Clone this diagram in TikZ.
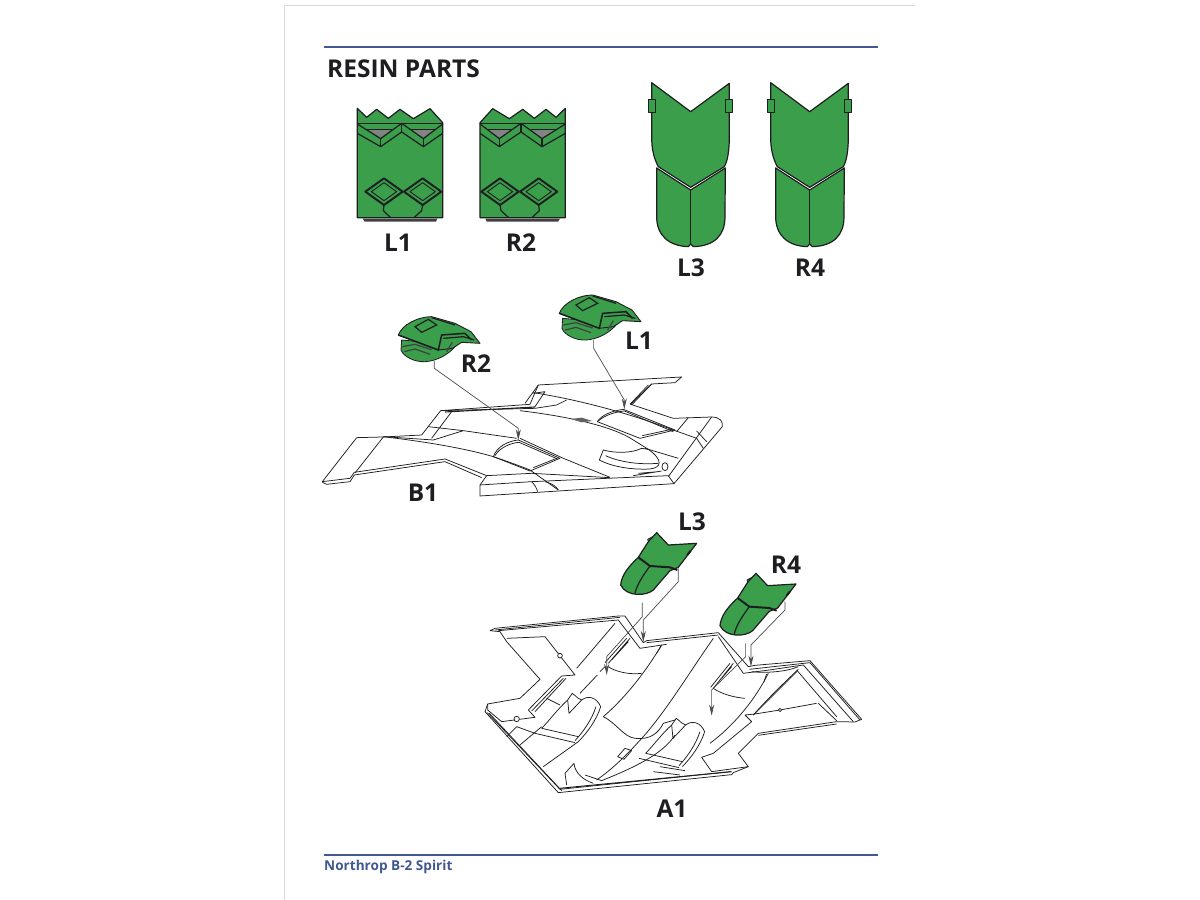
\documentclass[tikz,border=0pt]{standalone}
\usepackage{fontspec}
\setmainfont{Open Sans}
\usetikzlibrary{arrows.meta}
\definecolor{partgreen}{RGB}{58,158,74}
\definecolor{rulecol}{RGB}{66,88,146}
\definecolor{inkcol}{RGB}{30,30,34}
\tikzset{
  partlabel/.style={inner sep=0pt, font=\fontsize{24.5}{24.5}\selectfont\bfseries, text=inkcol},
  part/.style={draw=inkcol, fill=partgreen, line width=1.2pt, line join=round},
  edgeline/.style={draw=inkcol, line width=.75pt, line join=round},
  leader/.style={draw=inkcol!80, line width=.7pt},
  leaderarrow/.style={leader, -{Stealth[length=11pt,width=5pt]}},
  zoomed/.style={x=.3333pt, y=-.3333pt},
}
% flat part, traced once (L1), mirrored for R2
\newcommand{\flatpart}{
  \draw[part] (112,205) -- (140,232) -- (170,208) -- (205,235) -- (240,208) -- (280,236)
    -- (330,206) -- (368,248) -- (368,533) -- (112,533) -- cycle;
  \fill[inkcol!85] (128,536) -- (352,536) -- (348,545) -- (134,545) -- cycle;
  \fill[inkcol!55] (145,270) -- (212,270) -- (182,292) -- cycle;
  \fill[inkcol!55] (275,270) -- (342,270) -- (310,292) -- cycle;
  \draw[part, fill=none] (112,250) -- (368,250);
  \draw[part, fill=none] (112,252) -- (182,296) -- (245,250) -- (310,296) -- (368,252);
  \draw[part, fill=none] (112,280) -- (182,320) -- (245,276) -- (310,320) -- (368,280);
  \draw[part, fill=none] (182,296) -- (182,320) (245,250) -- (245,276) (310,296) -- (310,320);
  \draw[part, fill=none] (140,268) -- (215,268) (270,268) -- (345,268);
  \foreach \cx in {192,308} {
    \draw[part, fill=none, line width=1.9pt] (\cx-56,455) -- (\cx,415) -- (\cx+56,455) -- (\cx,495) -- cycle;
    \draw[part, fill=none, line width=.9pt] (\cx-38,455) -- (\cx,428) -- (\cx+38,455) -- (\cx,482) -- cycle;
  }
  \draw[part, fill=none] (192,495) -- (190,512) -- (212,533) (308,495) -- (305,512) -- (282,533);
}
% tall part of L3 and R4
\newcommand{\tallpart}{
  \draw[part] (65,38) -- (182,125) -- (298,40) -- (298,200)
    .. controls (298,245) and (292,275) .. (283,290) -- (182,352) -- (85,290)
    .. controls (72,265) and (65,240) .. (65,200) -- cycle;
  \draw[part] (80,294) -- (182,360) -- (286,294) -- (285,440)
    .. controls (285,495) and (255,528) .. (190,530) -- (182,522) -- (175,530)
    .. controls (115,528) and (80,495) .. (80,440) -- cycle;
  \draw[part, fill=none] (182,360) -- (182,522);
  \draw[part, line width=1pt] (56,90) rectangle (75,128) (288,90) rectangle (308,128);
}
% small view of the tall part, L3 position
\newcommand{\tonguepart}{
  \draw[part, line width=.8pt] (503,88) -- (518,80) -- (522,95) -- (508,100) -- cycle;
  \draw[part] (422,225) .. controls (425,195) and (445,170) .. (475,142) -- (505,95) -- (530,68)
    -- (565,105) -- (650,100) -- (595,172) -- (570,182) -- (520,240)
    .. controls (500,258) and (440,262) .. (422,225) -- cycle;
  \draw[inkcol, line width=2pt, line join=round] (475,142) -- (510,168) -- (570,172) -- (592,180);
  \draw[part, fill=none] (510,168) .. controls (490,195) and (470,225) .. (465,250);
  \draw[inkcol, line width=2pt] (622,135) -- (632,122);
}
% small view of the flat part, R2 position
\newcommand{\domepart}{
  \draw[part, line width=.8pt] (260,165) -- (258,195) .. controls (265,215) and (300,232) .. (330,230)
    .. controls (365,228) and (400,210) .. (425,180) -- cycle;
  \draw[part, line width=.9pt] (250,150) .. controls (262,118) and (310,95) .. (350,95) -- (420,115)
    -- (468,140) -- (495,175) -- (440,172) -- (412,190) -- (370,195) -- cycle;
  \draw[inkcol, line width=1.5pt] (250,150) -- (370,195) -- (380,150) -- (450,145) -- (470,165);
  \draw[inkcol, line width=1.2pt] (300,125) -- (340,103) -- (365,120) -- (320,142) -- cycle;
  \draw[inkcol, line width=1.2pt] (385,160) -- (445,155) -- (478,165) (350,98) -- (420,120);
  \draw[inkcol!85, line width=1.2pt] (262,185) -- (300,178) -- (350,194) (268,200) -- (300,192) -- (345,208)
    (395,200) -- (412,172);
}
% engine cowl on A1, left position
\newcommand{\cowlpart}{
  \draw[edgeline] (263,570) -- (277,550) -- (295,565) -- (305,570) -- (267,610) -- cycle;
  \draw[edgeline] (263,570) .. controls (235,595) and (205,635) .. (185,655);
  \draw[edgeline] (305,570) .. controls (325,555) and (350,562) .. (362,590)
    .. controls (350,630) and (320,670) .. (295,695);
  \draw[edgeline] (348,590) .. controls (335,630) and (310,665) .. (285,692);
  \draw[edgeline] (185,655) -- (295,680) (165,670) -- (285,698);
}
\begin{document}
\begin{tikzpicture}[x=1pt, y=-1pt]
  \useasboundingbox (0,0) rectangle (1200,900);
  % page edge and rules
  \draw[gray!30, line width=.8pt] (284,900) -- (284,5) -- (915,5);
  \draw[rulecol, line width=2pt] (324,47) -- (878,47);
  \draw[rulecol, line width=2pt] (324,855) -- (878,855);
  \node[partlabel, anchor=base west] (title) at (327,77) {RESIN PARTS};
  \node[anchor=base west, inner sep=0pt, text=rulecol, font=\fontsize{13.6}{13.6}\selectfont\bfseries] (footer) at (324,870) {Northrop B-2 Spirit};

  % flat parts
  \begin{scope}[shift={(320,40)}, zoomed]
    \flatpart
  \end{scope}
  \begin{scope}[shift={(602.67,40)}, xscale=-1, zoomed]
    \flatpart
  \end{scope}
  % tall parts
  \begin{scope}[shift={(630,70)}, zoomed]
    \tallpart
  \end{scope}
  \begin{scope}[shift={(749,70)}, zoomed]
    \tallpart
  \end{scope}
  \node[partlabel] (topL1) at (398,243) {L1};
  \node[partlabel] (topR2) at (521,243) {R2};
  \node[partlabel] (topL3) at (691,268) {L3};
  \node[partlabel] (topR4) at (810,268) {R4};

  % B1
  \begin{scope}[shift={(315,285)}, zoomed]
    \draw[edgeline] (22,590) -- (125,458) -- (205,456) -- (320,450) -- (377,377) -- (645,358) -- (670,300)
      -- (1100,276) -- (1080,293) -- (1010,297) -- (947,358) -- (1075,400) -- (1190,396)
      .. controls (1215,396) and (1225,410) .. (1222,425) -- (1077,596) -- (495,633) -- (495,600) -- (515,572)
      -- (390,522) -- (118,562) -- (105,580) -- cycle;
    \draw[edgeline] (22,592) -- (35,598) -- (105,590) -- (118,570) -- (390,530) -- (500,578);
    \draw[edgeline] (120,564) -- (205,456) (350,460) -- (410,380) (340,425) -- (445,437) -- (355,465) -- (205,455);
    \draw[edgeline] (445,437) -- (605,460);
    \draw[edgeline] (377,377) -- (660,370) -- (725,360) -- (755,345);
    \draw[edgeline, line width=1.1pt] (390,381) -- (660,366);
    \draw[edgeline] (1010,297) -- (950,360) (1000,300) -- (945,358);
    \draw[edgeline] (655,325) -- (690,320) -- (660,365) (670,300) -- (630,355);
    % wing surface and doors
    \draw[edgeline] (205,455) .. controls (330,470) and (450,490) .. (535,515) .. controls (580,530) and (620,545) .. (645,555) -- (730,615);
    \draw[edgeline] (655,323) .. controls (765,340) and (915,375) .. (1075,435);
    \draw[edgeline] (615,377) .. controls (765,395) and (895,425) .. (955,465) -- (1000,493);
    \draw[edgeline] (847,410) .. controls (860,390) and (890,378) .. (925,373) -- (1080,435) -- (975,460) -- (847,410);
    \draw[edgeline] (850,408) .. controls (865,395) and (890,382) .. (928,378) -- (1075,440);
    \draw[edgeline] (982,452) -- (1070,433);
    \draw[edgeline] (535,515) .. controls (545,485) and (580,468) .. (610,465) -- (735,520) -- (645,558) -- cycle;
    \draw[edgeline] (540,512) .. controls (552,490) and (585,474) .. (612,472) -- (728,522);
    \draw[edgeline] (655,548) -- (725,520);
    \draw[edgeline] (615,460) -- (745,520) -- (885,577);
    % tail and nose
    \draw[edgeline] (865,495) .. controls (900,505) and (950,505) .. (980,490) -- (1000,493)
      .. controls (1045,525) and (1040,548) .. (1005,552) .. controls (950,555) and (890,545) .. (853,525) -- cycle;
    \draw[edgeline] (872,512) .. controls (910,530) and (970,540) .. (1030,535);
    \draw[edgeline] (990,490) -- (1090,520) (1075,435) -- (1145,460) -- (1165,490);
    \draw[edgeline] (1120,398) -- (1085,440) (1190,396) -- (1060,575);
    \draw[edgeline] (1145,438) -- (1175,470);
    \draw[edgeline] (495,600) -- (650,590) -- (1060,572) -- (1077,596) (515,572) -- (650,565) -- (885,578);
    \draw[edgeline] (650,590) .. controls (660,600) and (665,610) .. (668,620) (690,590) .. controls (710,595) and (725,605) .. (730,615);
    \draw[edgeline] (955,572) -- (1040,558) (970,565) -- (1030,560);
    \draw[edgeline] (1050,545) ellipse (9 and 12);
    \fill[inkcol!70] (768,402) -- (800,398) -- (832,408) -- (800,412) -- cycle;

    % parts and leaders
    \domepart
    \begin{scope}[shift={(483,-65)}]
      \domepart
    \end{scope}
    \coordinate (r2from) at (358,228);
    \coordinate (r2knee) at (358,250);
    \coordinate (r2bend) at (610,430);
    \coordinate (r2door) at (610,466);
    \coordinate (l1from) at (836,165);
    \coordinate (l1knee) at (836,190);
    \coordinate (l1bend) at (928,345);
    \coordinate (l1door) at (928,373);
    \draw[leaderarrow] (r2from) -- (r2knee) -- (r2bend) -- (r2door);
    \draw[leaderarrow] (l1from) -- (l1knee) -- (l1bend) -- (l1door);
  \end{scope}
  \node[partlabel] (lblR2) at (476,364) {R2};
  \node[partlabel] (lblL1) at (639,341) {L1};
  \node[partlabel] (lblB1) at (423,493) {B1};

  % A1
  \begin{scope}[shift={(480,510)}, zoomed]
    % outer edge
    \draw[edgeline] (30,362) -- (45,355) -- (415,318) -- (435,318) -- (490,398) -- (500,392) -- (715,368) -- (805,470)
      -- (825,466) -- (990,452) -- (1145,628) -- (1125,636) -- (1070,635) -- (835,670) -- (775,730) -- (805,770)
      -- (760,788) -- (755,794) -- (235,848) -- (15,605) -- (23,582) -- (120,565) -- (180,508) -- (80,395) -- (60,365) -- cycle;
    \draw[edgeline] (55,362) -- (415,330) -- (480,415) -- (560,403);
    \draw[edgeline] (45,360) -- (420,322);
    \draw[edgeline] (715,380) -- (790,490) -- (868,480) -- (970,465) -- (1120,635);
    \draw[edgeline] (500,398) -- (715,375) (808,478) -- (990,458) -- (1140,630);
    \draw[edgeline] (22,608) -- (240,838) -- (752,785);
    \draw[edgeline] (28,610) -- (245,842);
    % left wing
    \draw[edgeline] (80,385) -- (195,380) -- (285,495) -- (245,498) -- (145,600) -- (165,622) -- (65,635) -- (23,600) -- (23,582);
    \draw[edgeline] (250,505) -- (155,603) (258,505) -- (165,605);
    \draw[edgeline, fill=white] (240,437) circle (7);
    \draw[edgeline, fill=white] (110,627) circle (8);
    \draw[edgeline] (405,340) -- (290,475) (110,650) -- (80,680);
    % right wing
    \draw[edgeline] (950,480) -- (1070,620) (1015,580) -- (1070,632) (950,485) -- (820,615);
    \draw[edgeline] (1010,580) -- (900,600) -- (825,612) -- (795,615) -- (815,635) -- (700,730) -- (665,742) -- (695,785) -- (805,770);
    \draw[edgeline] (835,676) -- (1070,642);
    \draw[edgeline, fill=white] (900,600) circle (5);
    % fuselage and doors
    \draw[edgeline] (450,385) -- (385,460) (440,385) -- (375,458) (445,395) -- (395,450);
    \draw[edgeline] (375,470) -- (360,485) (352,495) -- (300,550);
    \draw[edgeline] (385,470) .. controls (405,485) and (450,495) .. (485,490);
    \draw[edgeline] (545,405) .. controls (500,480) and (440,560) .. (370,620);
    \draw[edgeline] (370,620) .. controls (410,640) and (430,680) .. (465,685) .. controls (510,690) and (535,670) .. (550,640) -- (585,630);
    \draw[edgeline] (700,385) .. controls (620,500) and (560,600) .. (490,680) .. controls (440,735) and (400,775) .. (350,810);
    \draw[edgeline] (760,460) -- (700,535) (750,460) -- (692,532) (755,470) -- (710,522);
    \draw[edgeline] (700,535) .. controls (725,552) and (760,562) .. (795,565);
    \draw[edgeline] (865,490) .. controls (830,560) and (770,640) .. (690,700);
    \draw[edgeline] (815,485) .. controls (860,490) and (920,485) .. (955,470);
    \draw[edgeline] (955,478) .. controls (900,530) and (860,570) .. (820,615);
    \draw[edgeline] (190,770) -- (295,695) (120,705) -- (185,650) (110,650) -- (165,670);
    \draw[edgeline] (200,565) -- (240,585);
    \draw[edgeline] (585,675) .. controls (550,730) and (470,770) .. (365,812) -- (315,795);
    \draw[edgeline] (282,760) -- (255,790) -- (260,825) (282,760) .. controls (285,790) and (310,810) .. (340,820);
    \draw[edgeline] (413,740) -- (435,715) -- (455,722) -- (432,748) -- cycle;
    \draw[edgeline] (540,770) -- (615,782) (520,785) -- (600,795);
    \draw[edgeline] (545,405) -- (530,430) (860,492) -- (852,515);
    \draw[edgeline, line width=1pt] (240,835) -- (755,785);
    \cowlpart
    \begin{scope}[shift={(312,75)}]
      \cowlpart
    \end{scope}

    % parts and leaders
    \tonguepart
    \begin{scope}[shift={(298,122)}]
      \tonguepart
    \end{scope}
    \coordinate (l3from) at (487,278);
    \coordinate (l3knee) at (487,320);
    \coordinate (l3bend) at (380,440);
    \coordinate (l3door) at (380,495);
    \coordinate (l3edge) at (595,175);
    \coordinate (l3edgek) at (595,215);
    \coordinate (l3edgeb) at (490,330);
    \coordinate (l3notch) at (490,396);
    \coordinate (r4from) at (797,400);
    \coordinate (r4knee) at (797,440);
    \coordinate (r4bend) at (695,540);
    \coordinate (r4door) at (695,617);
    \coordinate (r4edge) at (915,275);
    \coordinate (r4edgek) at (915,300);
    \coordinate (r4edgeb) at (813,405);
    \coordinate (r4notch) at (813,470);
    \draw[leaderarrow] (l3from) -- (l3knee) -- (l3bend) -- (l3door);
    \draw[leaderarrow] (l3edge) -- (l3edgek) -- (l3edgeb) -- (l3notch);
    \draw[leaderarrow] (r4from) -- (r4knee) -- (r4bend) -- (r4door);
    \draw[leaderarrow] (r4edge) -- (r4edgek) -- (r4edgeb) -- (r4notch);
  \end{scope}
  \node[partlabel] (lblL3) at (692,522) {L3};
  \node[partlabel] (lblR4) at (786,565) {R4};
  \node[partlabel] (lblA1) at (672,809) {A1};
\end{tikzpicture}
\end{document}
